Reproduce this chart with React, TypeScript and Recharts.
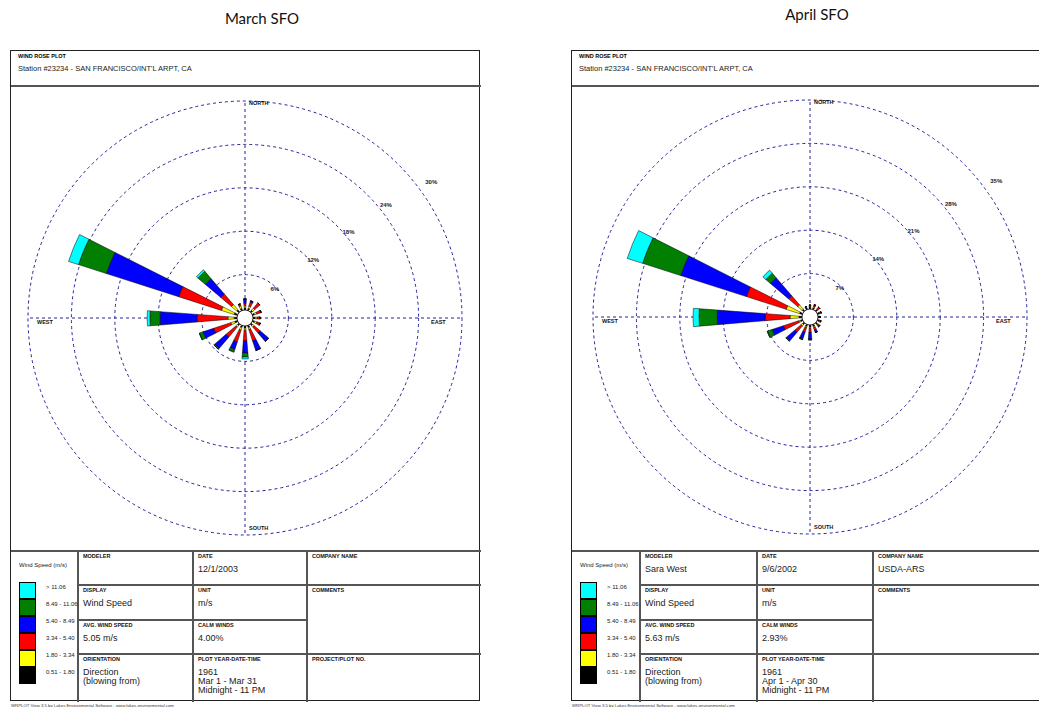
import { PolarAngleAxis, PolarGrid, PolarRadiusAxis, RadialBar, RadialBarChart } from 'recharts';

const directions = ['N', 'NNE', 'NE', 'ENE', 'E', 'ESE', 'SE', 'SSE', 'S', 'SSW', 'SW', 'WSW', 'W', 'WNW', 'NW', 'NNW'];
const speedClasses = ['0.51 - 1.80', '1.80 - 3.34', '3.34 - 5.40', '5.40 - 8.49', '8.49 - 11.06', '> 11.06'];
const classColors = ['#000000', '#ffff00', '#ff0000', '#0000ff', '#007f00', '#00ffff'];

// March, frequency (%) per direction for each wind speed class
const marchBlack = [0.3, 0.3, 0.3, 0.3, 0.3, 0.3, 0.3, 0.3, 0.3, 0.3, 0.3, 0.4, 0.4, 0.5, 0.4, 0.3];
const marchYellow = [0.3, 0.35, 0.4, 0.35, 0.3, 0.35, 0.3, 0.3, 0.3, 0.4, 0.3, 0.6, 0.9, 1.9, 1.0, 0.4];
const marchRed = [0.4, 0.6, 1.0, 0.65, 0.4, 0.5, 1.1, 1.7, 1.55, 1.75, 1.85, 2.6, 4.45, 6.45, 2.0, 0.3];
const marchBlue = [0.6, 0.2, 0, 0, 0, 0, 1.6, 1.43, 1.73, 1.15, 2.15, 1.6, 5.3, 10.9, 2.9, 0];
const marchGreen = [0, 0, 0, 0, 0, 0, 0, 0.05, 0.57, 0.35, 0.15, 0.55, 1.45, 4.2, 1.4, 0];
const marchCyan = [0, 0, 0, 0, 0, 0, 0, 0, 0.29, 0.07, 0, 0, 0.4, 1.5, 0.3, 0];

// April
const aprilBlack = [0.4, 0.3, 0.3, 0.3, 0.3, 0.3, 0.3, 0.35, 0.35, 0.35, 0.35, 0.35, 0.5, 0.5, 0.4, 0.35];
const aprilYellow = [0.1, 0.2, 0.15, 0.1, 0.05, 0.1, 0.15, 0.2, 0.2, 0.2, 0.3, 0.3, 1.5, 2.35, 0.95, 0.15];
const aprilRed = [0.17, 0.34, 0.39, 0.27, 0, 0.2, 0.2, 0.4, 0.7, 0.8, 1.35, 2.7, 4.2, 7.0, 2.0, 0];
const aprilBlue = [0, 0, 0, 0, 0, 0, 0.2, 0.47, 1.1, 1.15, 1.85, 2.0, 8.0, 11.55, 4.0, 0];
const aprilGreen = [0, 0, 0, 0, 0, 0, 0, 0, 0.15, 0.15, 0.15, 0.85, 3.05, 6.7, 1.0, 0];
const aprilCyan = [0, 0, 0, 0, 0, 0, 0, 0, 0, 0, 0, 0, 1.0, 2.7, 0.67, 0];

const marchTicks = [6, 12, 18, 24, 30];
const aprilTicks = [7, 14, 21, 28, 35];

const toRows = (series: number[][]) =>
  directions.map((dir, i) => {
    const row: any = { dir };
    series.forEach((s, k) => (row['s' + k] = s[i]));
    return row;
  });

const marchData = toRows([marchBlack, marchYellow, marchRed, marchBlue, marchGreen, marchCyan]);
const aprilData = toRows([aprilBlack, aprilYellow, aprilRed, aprilBlue, aprilGreen, aprilCyan]);

const tiny = "'Liberation Sans', Arial, sans-serif";
const gridColor = '#23239c';
const lineColor = '#555';
// small shifts so the ring labels sit where WRPLOT puts them
const labelDx = [-10, -5, -3, 1, 13];
const labelDy = [5, 1, -2, -4, -1];

function Rose({ data, ticks }: { data: any[]; ticks: number[] }) {
  const ringTick = (props: any) => {
    const { x, y, payload } = props;
    const i = ticks.indexOf(payload.value);
    return (
      <text x={x + (labelDx[i] || 0)} y={y - 2 + (labelDy[i] || 0)} textAnchor="middle" fontSize={6} fontWeight="bold" fontFamily={tiny} fill="#222">
        {payload.value}%
      </text>
    );
  };
  const ringRadii = ticks.map((_, i) => 43.4 * (i + 1));
  return (
    <div style={{ position: 'relative', width: 440, height: 440 }}>
      <RadialBarChart
        width={440}
        height={440}
        data={data}
        layout="centric"
        cx={220}
        cy={220}
        innerRadius={8}
        outerRadius={217}
        startAngle={78.75}
        endAngle={-281.25}
        barCategoryGap="31%"
        margin={{ top: 0, right: 0, bottom: 0, left: 0 }}
      >
        <PolarGrid
          gridType="circle"
          polarRadius={ringRadii}
          polarAngles={[0, 90, 180, 270]}
          stroke={gridColor}
          strokeDasharray="3 3"
        />
        <PolarAngleAxis type="category" dataKey="dir" tick={false} axisLine={false} tickLine={false} />
        <PolarRadiusAxis
          type="number"
          domain={[0, ticks[ticks.length - 1]]}
          ticks={ticks}
          angle={37}
          axisLine={false}
          tickLine={false}
          tick={ringTick}
        />
        {speedClasses.map((name, k) => (
          <RadialBar
            key={name}
            name={name}
            dataKey={'s' + k}
            stackId="speed"
            fill={classColors[k]}
            stroke="#000"
            strokeWidth={0.5}
            isAnimationActive={false}
          />
        ))}
      </RadialBarChart>
      <svg width={440} height={440} style={{ position: 'absolute', left: 0, top: 0, pointerEvents: 'none' }}>
        <circle cx={220} cy={220} r={8} fill="#fff" stroke="#000" strokeWidth={0.8} />
        <g fontFamily={tiny} fontSize={5.5} fontWeight="bold" fill="#111">
          <text x={224} y={7}>NORTH</text>
          <text x={224} y={432}>SOUTH</text>
          <text x={12} y={226}>WEST</text>
          <text x={406} y={226}>EAST</text>
        </g>
      </svg>
    </div>
  );
}

type Info = {
  modeler: string;
  date: string;
  company: string;
  avg: string;
  calm: string;
  period: string;
  project: string;
};

type PanelProps = {
  x: number;
  width: number;
  cols: number[];
  roseLeft: number;
  roseTop: number;
  info: Info;
  data: any[];
  ticks: number[];
};

function Panel({ x, width, cols, roseLeft, roseTop, info, data, ticks }: PanelProps) {
  const top = 50;
  const tableTop = 500;
  const rows = [0, 34, 69, 103, 151];
  const head = (t: string) => (
    <div style={{ fontFamily: tiny, fontSize: 5.5, fontWeight: 'bold', lineHeight: '7px', color: '#111' }}>{t}</div>
  );
  const val = (lines: string[]) => (
    <div style={{ fontFamily: tiny, fontSize: 9, lineHeight: '9px', color: '#222', marginTop: 5 }}>
      {lines.map((l) => (
        <div key={l}>{l}</div>
      ))}
    </div>
  );
  const cell = (c: number, r: number, children: any) => (
    <div style={{ position: 'absolute', left: cols[c] + 5, top: tableTop + rows[r] + 2 }}>{children}</div>
  );
  const hLine = (y: number, x0: number, x1: number) => (
    <div style={{ position: 'absolute', left: x0, top: y - 1, width: x1 - x0, height: 2, background: lineColor }} />
  );
  const vLine = (xx: number, y0: number, y1: number) => (
    <div style={{ position: 'absolute', left: xx - 1, top: y0, width: 2, height: y1 - y0, background: lineColor }} />
  );
  const legendItems = [...speedClasses].reverse();
  const legendColors = [...classColors].reverse();
  return (
    <div style={{ position: 'absolute', left: x, top, width, height: tableTop + rows[4], border: '1px solid #222', boxSizing: 'border-box' }}>
      <div style={{ position: 'absolute', left: 7, top: 2, fontFamily: tiny, fontSize: 5.5, fontWeight: 'bold' }}>WIND ROSE PLOT</div>
      <div style={{ position: 'absolute', left: 7, top: 13, fontFamily: tiny, fontSize: 7.5, color: '#222' }}>
        Station #23234 - SAN FRANCISCO/INT'L ARPT, CA
      </div>
      {hLine(35, 0, width)}
      <div style={{ position: 'absolute', left: roseLeft, top: roseTop }}>
        <Rose data={data} ticks={ticks} />
      </div>
      {hLine(tableTop, 0, width)}
      {hLine(tableTop + rows[1], cols[1], width)}
      {hLine(tableTop + rows[2], cols[1], cols[3])}
      {hLine(tableTop + rows[3], cols[1], width)}
      {vLine(cols[1], tableTop, tableTop + rows[4])}
      {vLine(cols[2], tableTop, tableTop + rows[4])}
      {vLine(cols[3], tableTop, tableTop + rows[4])}
      <div style={{ position: 'absolute', left: 8, top: tableTop + 11, fontFamily: tiny, fontSize: 6, color: '#222' }}>Wind Speed (m/s)</div>
      {legendItems.map((label, i) => (
        <div key={label}>
          <div
            style={{
              position: 'absolute',
              left: 8,
              top: tableTop + 31 + i * 17,
              width: 17,
              height: 17,
              background: legendColors[i],
              border: '0.5px solid #000',
              boxSizing: 'border-box',
            }}
          />
          <div style={{ position: 'absolute', left: 35, top: tableTop + 33 + i * 17, fontFamily: tiny, fontSize: 6, color: '#222' }}>
            {label}
          </div>
        </div>
      ))}
      {cell(1, 0, <>{head('MODELER')}{val([info.modeler])}</>)}
      {cell(2, 0, <>{head('DATE')}{val([info.date])}</>)}
      {cell(3, 0, <>{head('COMPANY NAME')}{val([info.company])}</>)}
      {cell(1, 1, <>{head('DISPLAY')}{val(['Wind Speed'])}</>)}
      {cell(2, 1, <>{head('UNIT')}{val(['m/s'])}</>)}
      {cell(3, 1, <>{head('COMMENTS')}</>)}
      {cell(1, 2, <>{head('AVG. WIND SPEED')}{val([info.avg])}</>)}
      {cell(2, 2, <>{head('CALM WINDS')}{val([info.calm])}</>)}
      {cell(1, 3, <>{head('ORIENTATION')}{val(['Direction', '(blowing from)'])}</>)}
      {cell(2, 3, <>{head('PLOT YEAR-DATE-TIME')}{val(['1961', info.period, 'Midnight  -  11 PM'])}</>)}
      {cell(3, 3, <>{head(info.project)}</>)}
      <div style={{ position: 'absolute', left: 0, top: tableTop + rows[4] + 1, fontFamily: tiny, fontSize: 4.3, whiteSpace: 'nowrap', color: '#333' }}>
        WRPLOT View 3.5 by Lakes Environmental Software - www.lakes-environmental.com
      </div>
    </div>
  );
}

const marchInfo: Info = {
  modeler: '',
  date: '12/1/2003',
  company: '',
  avg: '5.05 m/s',
  calm: '4.00%',
  period: 'Mar 1 - Mar 31',
  project: 'PROJECT/PLOT NO.',
};

const aprilInfo: Info = {
  modeler: 'Sara West',
  date: '9/6/2002',
  company: 'USDA-ARS',
  avg: '5.63 m/s',
  calm: '2.93%',
  period: 'Apr 1 - Apr 30',
  project: '',
};

export default function App() {
  return (
    <div style={{ position: 'absolute', left: 0, top: 0, width: 1039, height: 707, overflow: 'hidden', background: '#fff' }}>
      <div style={{ position: 'absolute', left: 262, top: 9, transform: 'translateX(-50%)', fontFamily: 'Lato, sans-serif', fontSize: 15, color: '#111' }}>
        March SFO
      </div>
      <div style={{ position: 'absolute', left: 817, top: 5, transform: 'translateX(-50%)', fontFamily: 'Lato, sans-serif', fontSize: 15, color: '#111' }}>
        April SFO
      </div>
      <Panel x={10} width={470} cols={[0, 67, 182, 296]} roseLeft={14} roseTop={47} info={marchInfo} data={marchData} ticks={marchTicks} />
      <Panel x={571} width={478} cols={[0, 68, 185, 301]} roseLeft={18} roseTop={46} info={aprilInfo} data={aprilData} ticks={aprilTicks} />
    </div>
  );
}
